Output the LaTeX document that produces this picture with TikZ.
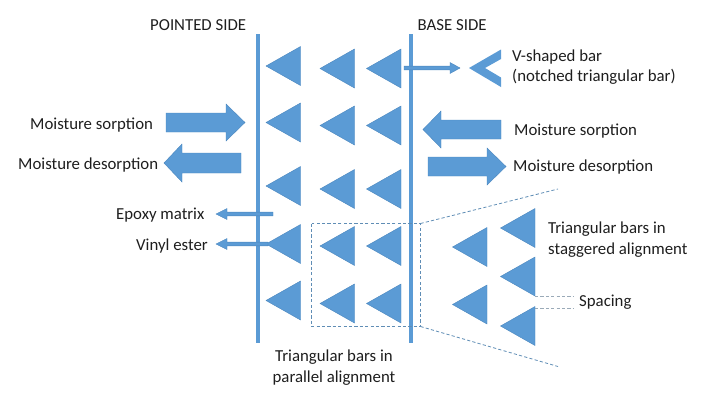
\documentclass[tikz,border=0pt]{standalone}
\usepackage{fontspec}
\setmainfont{Carlito}
\definecolor{barblue}{HTML}{5B9BD5}
\definecolor{baredge}{HTML}{4A86BE}
\definecolor{dashblue}{HTML}{5F8DB5}
\definecolor{txt}{HTML}{1E1E1E}
\newcommand{\tribar}[3]{\fill[barblue,draw=baredge,line width=.4pt] (#1,#2) -- (#1+34.5,#2-19.5) -- (#1+34.5,#2+19.5) -- cycle;}
\newcommand{\rblock}[8]{\fill[barblue,draw=baredge,line width=.4pt] (#1,#2-#4) -- (#3,#2-#4) -- (#3,#2-#5) -- (#6,#2) -- (#3,#2+#5) -- (#3,#2+#4) -- (#1,#2+#4) -- cycle;}
\tikzset{
  lab/.style={text=txt,font=\fontsize{16.8}{20}\selectfont,inner sep=0pt,yshift=-1pt},
  labl/.style={lab,anchor=west,align=left},
  vbar/.style={line width=4pt,draw=barblue},
  bdash/.style={draw=dashblue,line width=.8pt,dash pattern=on 3.2pt off 2.2pt},
  gdash/.style={draw=gray!50!dashblue!70,line width=.9pt,dash pattern=on 3.2pt off 2.2pt}
}
\begin{document}
\begin{tikzpicture}[x=1pt,y=-1pt]
\useasboundingbox (0,0) rectangle (720,400);
% walls
\coordinate (pt) at (257.5,34); \coordinate (pb) at (257.5,343);
\coordinate (bt) at (411,34); \coordinate (bb) at (411,343);
\draw[vbar] (pt) -- (pb);
\draw[vbar] (bt) -- (bb);
% parallel triangles
\foreach \y in {66,122.5,186,244,300.5} {\tribar{266}{\y}{}}
\foreach \y in {68.5,125.5,189,246,303.5} {\tribar{320}{\y}{}\tribar{366.5}{\y}{}}
% staggered triangles
\foreach \y in {247,304.5} {\tribar{452.5}{\y}{}}
\foreach \y in {228,276.5,326} {\tribar{500.5}{\y}{}}
% block arrows
\rblock{166}{122.5}{226}{9.5}{18.5}{245}{}{}
\rblock{241}{163}{182}{10}{19}{164}{}{}
\rblock{501}{129.5}{441}{9.5}{18.5}{423}{}{}
\rblock{428}{166.5}{487}{9.5}{18.5}{506}{}{}
% thin arrows
\rblock{404}{68}{450}{1.9}{5.5}{460}{}{}
\rblock{273}{214}{227}{1.9}{5.5}{216}{}{}
\rblock{268}{244}{227}{1.9}{5.5}{216}{}{}
% V-shaped bar
\fill[barblue] (469,68) -- (501,49.5) -- (501,59) -- (485,68) -- (501,77.5) -- (501,87) -- cycle;
% dashed zoom
\coordinate (zt) at (420.5,223.5); \coordinate (zb) at (420.5,326.5);
\coordinate (zt2) at (558,189); \coordinate (zb2) at (558,366.5);
\draw[bdash] (311.5,223.5) rectangle (zb);
\draw[bdash] (zt) -- (zt2);
\draw[bdash] (zb) -- (zb2);
% spacing guides
\coordinate (s1) at (535,296); \coordinate (s2) at (574,296);
\coordinate (s3) at (535,308.5); \coordinate (s4) at (574,308.5);
\draw[gdash] (s1) -- (s2);
\draw[gdash] (s3) -- (s4);
% labels
\node[labl] (pointed) at (150,24) {POINTED SIDE};
\node[labl] (base) at (417.5,24) {BASE SIDE};
\node[labl] (v1) at (512,56) {V-shaped bar};
\node[labl] (v2) at (512,76) {(notched triangular bar)};
\node[labl] (ms1) at (30,124) {Moisture sorption};
\node[labl] (md1) at (18,164) {Moisture desorption};
\node[labl] (ms2) at (514,130) {Moisture sorption};
\node[labl] (md2) at (513,166) {Moisture desorption};
\node[labl] (ep) at (116,214) {Epoxy matrix};
\node[labl] (vi) at (136,245.5) {Vinyl ester};
\node[lab] (t1) at (334,356.5) {Triangular bars in};
\node[lab] (t2) at (334,377) {parallel alignment};
\node[labl] (t3) at (548,228.5) {Triangular bars in};
\node[labl] (t4) at (548,249) {staggered alignment};
\node[labl] (sp) at (579,301.5) {Spacing};
\end{tikzpicture}
\end{document}
